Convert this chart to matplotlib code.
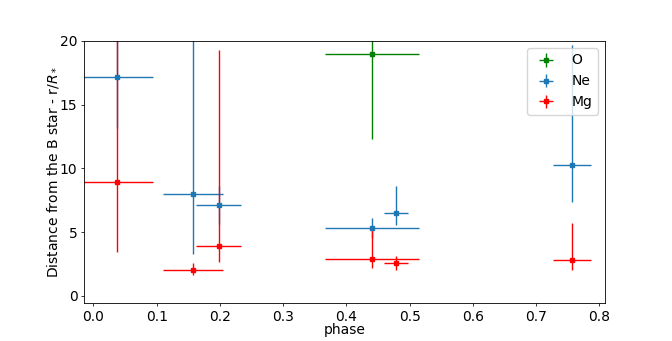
import numpy as np
import matplotlib.pyplot as plt

# O
o_phase = [0.440]
o_dist = [18.95]
o_xerr = [0.074]
o_yerr_lo = [6.64]
o_yerr_hi = [3.0]

# Ne
ne_phase = [0.037, 0.157, 0.198, 0.440, 0.478, 0.756]
ne_dist = [17.2, 8.0, 7.1, 5.35, 6.5, 10.3]
ne_xerr = [0.057, 0.047, 0.036, 0.074, 0.019, 0.030]
ne_yerr_lo = [4.0, 4.7, 1.5, 0.8, 0.92, 2.95]
ne_yerr_hi = [4.0, 14.0, 1.5, 0.74, 2.1, 9.4]

# Mg
mg_phase = [0.037, 0.157, 0.198, 0.440, 0.478, 0.756]
mg_dist = [8.95, 2.02, 3.88, 2.91, 2.57, 2.81]
mg_xerr = [0.057, 0.047, 0.036, 0.074, 0.019, 0.030]
mg_yerr_lo = [5.5, 0.4, 1.26, 0.73, 0.52, 0.8]
mg_yerr_hi = [12.0, 0.52, 15.4, 2.4, 0.58, 2.9]

y_ticks = [0, 5, 10, 15, 20]

fig, ax = plt.subplots(figsize=(6.72, 3.41), dpi=100)

ax.errorbar(o_phase, o_dist, xerr=o_xerr, yerr=[o_yerr_lo, o_yerr_hi],
            fmt='s', ms=2.2, color='green', elinewidth=1.0, label='O')
ax.errorbar(ne_phase, ne_dist, xerr=ne_xerr, yerr=[ne_yerr_lo, ne_yerr_hi],
            fmt='s', ms=2.2, color='#1f77b4', elinewidth=1.0, label='Ne')
ax.errorbar(mg_phase, mg_dist, xerr=mg_xerr, yerr=[mg_yerr_lo, mg_yerr_hi],
            fmt='s', ms=2.2, color='red', elinewidth=1.0, label='Mg')

ax.set_xlim(-0.015, 0.8085)
ax.set_ylim(-0.6, 20)
ax.set_yticks(y_ticks)
ax.set_xlabel('phase', fontsize=10, labelpad=-1)
ax.set_ylabel('Distance from the B star - r/$R_*$', fontsize=10, labelpad=-0.5)
ax.tick_params(labelsize=10, length=2.35, width=0.55, pad=2.35)
for s in ax.spines.values():
    s.set_linewidth(0.6)
ax.legend(loc='upper right', fontsize=10)

plt.savefig('out.png', dpi=100)
